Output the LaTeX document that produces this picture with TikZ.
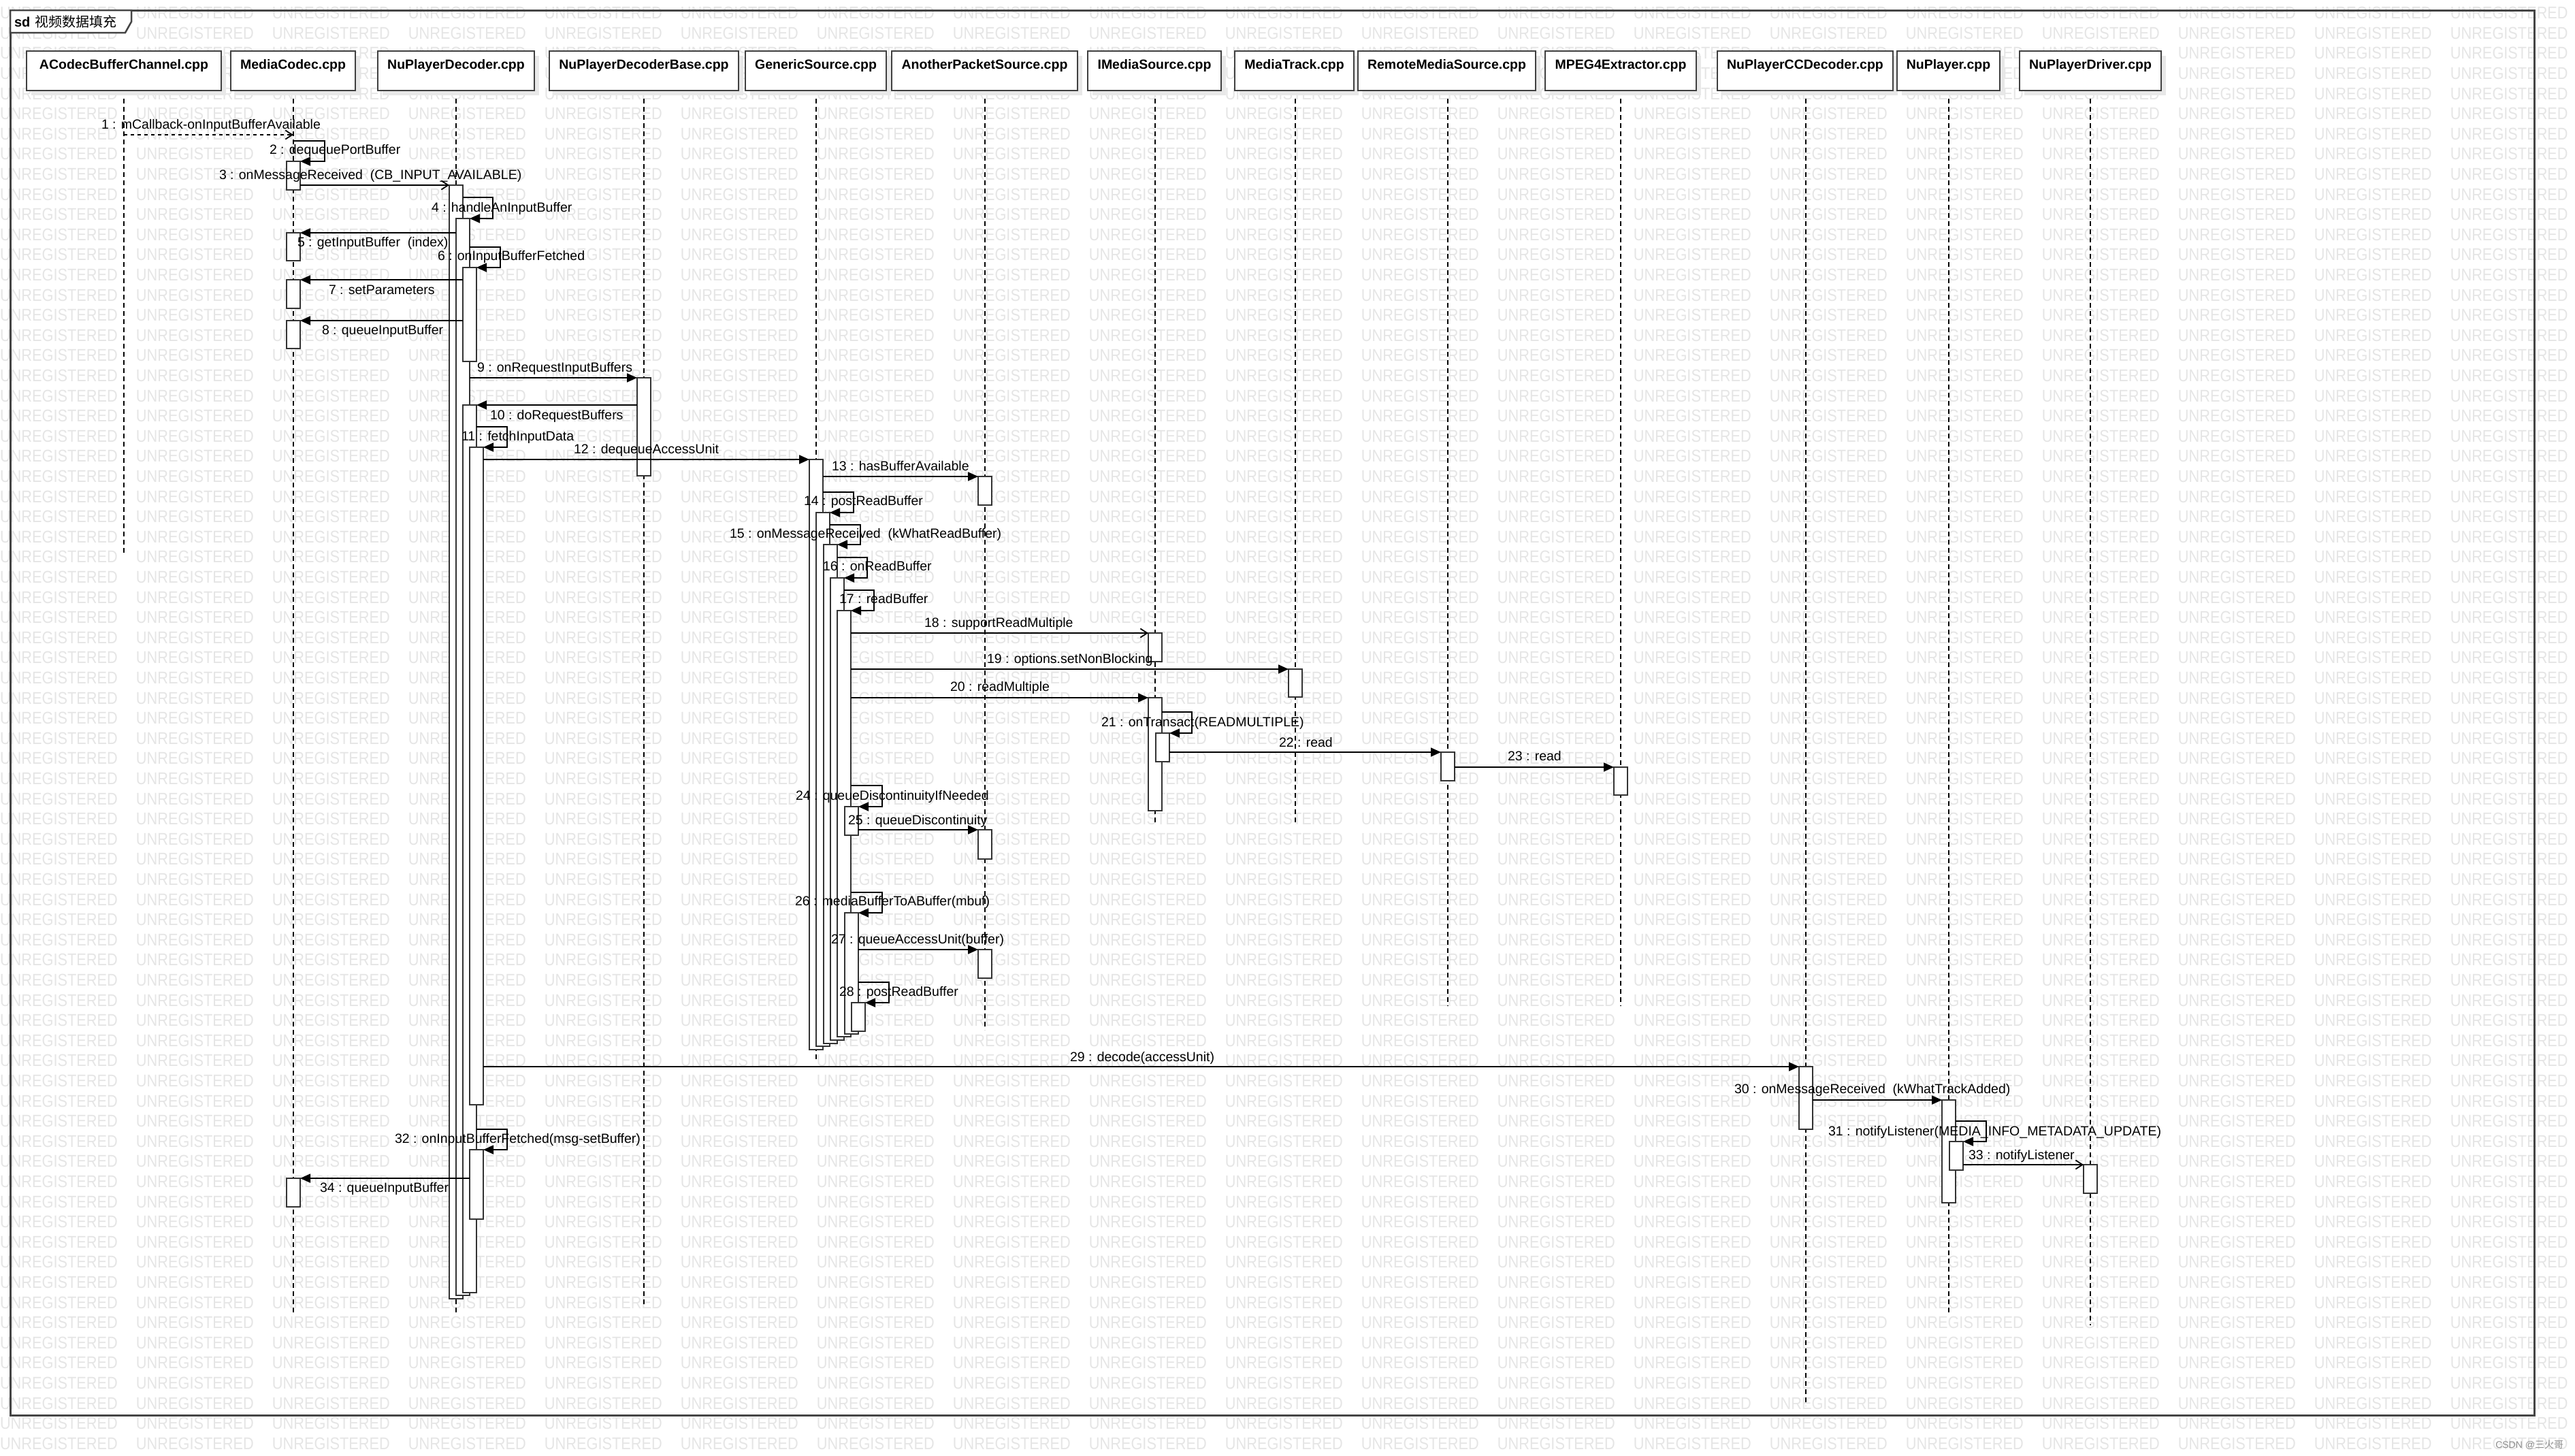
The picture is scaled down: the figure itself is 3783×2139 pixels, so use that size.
\documentclass[tikz,border=0pt]{standalone}
\usepackage{fontspec}
\setmainfont{Liberation Sans}
\newfontfamily\cjk{Noto Sans CJK SC}
\newfontfamily\wmfont[FakeStretch=0.87]{Liberation Sans}
\usetikzlibrary{arrows.meta}
\newcommand\wmword{\makebox[200pt][l]{UNREGISTERED}}
\newcommand\wmrow{\wmword\wmword\wmword\wmword\wmword\wmword\wmword\wmword\wmword\wmword\wmword\wmword\wmword\wmword\wmword\wmword\wmword\wmword\wmword}
\newcommand\headbox[4]{%
  \fill[headshadow] (#2+7,82) rectangle (#3+7,140);
  \draw[headboxst] (#2,75) rectangle (#3,133);
  \node[headtitle] (#1) at ({(#2+#3)/2},94) {#4};
}
\newcommand\lifeline[3]{%
  \coordinate (#1a) at (#2,133);
  \coordinate (#1b) at (#2,#3);
  \draw[lifeln] (#1a) -- (#1b);
}
\newcommand\act[3]{\draw[actbar] (#1,#2) rectangle (#1+20,#3);}
\newcommand\msg[8]{%
  \coordinate (#1s) at (#2,#4);
  \coordinate (#1e) at (#3,#4);
  \draw[#5] (#1s) -- (#1e);
  \node[lbl] (#1l) at (#6,#7) {#8};
}
\newcommand\selfmsg[9]{%
  \coordinate (#1s) at (#2,#4);
  \coordinate (#1e) at (#6,#5);
  \draw[sync] (#1s) -- (#3,#4) -- (#3,#5) -- (#1e);
  \node[lbl] (#1l) at (#7,#8) {#9};
}
\begin{document}
\begin{tikzpicture}[x=1pt,y=-1pt,
  every node/.style={inner sep=0pt, outer sep=0pt},
  headboxst/.style={draw=black!75, line width=2.5pt, fill=white},
  headshadow/.style={fill=black!9},
  lifeln/.style={draw=black, line width=1.5pt, dash pattern=on 7pt off 5pt},
  actbar/.style={draw=black!80, line width=2pt, fill=white},
  msgline/.style={draw=black, line width=1.8pt},
  sync/.style={msgline, -{Triangle[length=15pt,width=13pt]}},
  asyncm/.style={msgline, -{Straight Barb[length=10pt,width=13pt]}},
  dashm/.style={msgline, dash pattern=on 5pt off 5pt, -{Straight Barb[length=10pt,width=13pt]}},
  lbl/.style={anchor=west, text height=14pt, text depth=0pt, font=\fontsize{19.5}{22}\selectfont},
  headtitle/.style={text height=14pt, text depth=0pt, font=\bfseries\fontsize{19.5}{22}\selectfont},
  wm/.style={anchor=west, text=black!10, font=\wmfont\fontsize{25}{27}\selectfont},
]
\useasboundingbox (0,0) rectangle (3783,2139);
% watermark
\begin{scope}
\clip (0,0) rectangle (3783,2139);
\foreach \r in {0,...,72} {
  \node[wm] (wmr\r) at (0,19+29.6*\r) {\wmrow};
}
\end{scope}
\node[anchor=east, text=black!45, font=\fontsize{14}{16}\selectfont] (csdn) at (3766,2123) {CSDN @{\cjk 三火哥}};
% frame
\draw[draw=black!73, line width=3pt] (15,15) rectangle (3723,2079);
\draw[draw=black!73, line width=2.5pt, fill=white] (15,15) -- (193,15) -- (193,32) -- (184,48) -- (15,48) -- cycle;
\node[anchor=west, text height=14pt, text depth=0pt, font=\bfseries\fontsize{20}{22}\selectfont] (sdk) at (21,32) {sd};
\node[anchor=west, text height=14pt, text depth=0pt, font=\cjk\fontsize{20}{22}\selectfont] (sdname) at (51,32) {视频数据填充};
% lifelines
\lifeline{L1}{182}{814}
\lifeline{L2}{431}{1928}
\lifeline{L3}{670}{1928}
\lifeline{L4}{946}{1919}
\lifeline{L5}{1199}{1560}
\lifeline{L6}{1447}{1513}
\lifeline{L7}{1697}{1210}
\lifeline{L8}{1903}{1210}
\lifeline{L9}{2127}{1478}
\lifeline{L10}{2381}{1478}
\lifeline{L11}{2653}{2065}
\lifeline{L12}{2863}{1930}
\lifeline{L13}{3071}{1947}
% heads
\headbox{h1}{39}{325}{ACodecBufferChannel.cpp}
\headbox{h2}{339}{522}{MediaCodec.cpp}
\headbox{h3}{555}{785}{NuPlayerDecoder.cpp}
\headbox{h4}{807}{1085}{NuPlayerDecoderBase.cpp}
\headbox{h5}{1095}{1302}{GenericSource.cpp}
\headbox{h6}{1310}{1583}{AnotherPacketSource.cpp}
\headbox{h7}{1598}{1794}{IMediaSource.cpp}
\headbox{h8}{1814}{1989}{MediaTrack.cpp}
\headbox{h9}{1995}{2256}{RemoteMediaSource.cpp}
\headbox{h10}{2270}{2492}{MPEG4Extractor.cpp}
\headbox{h11}{2523}{2781}{NuPlayerCCDecoder.cpp}
\headbox{h12}{2787}{2938}{NuPlayer.cpp}
\headbox{h13}{2967}{3175}{NuPlayerDriver.cpp}
% activation bars
\act{421}{237}{279}
\act{421}{342}{383}
\act{421}{411}{453}
\act{421}{471}{512}
\act{421}{1731}{1773}
\act{660}{272}{1908}
\act{670}{321}{1903}
\act{680}{393}{531}
\act{680}{595}{1899}
\act{690}{657}{1623}
\act{690}{1689}{1791}
\act{936}{555}{699}
\act{1189}{675}{1542}
\act{1199}{753}{1537}
\act{1210}{800}{1533}
\act{1220}{849}{1528}
\act{1230}{897}{1523}
\act{1241}{1185}{1227}
\act{1241}{1341}{1519}
\act{1251}{1473}{1515}
\act{1437}{700}{742}
\act{1437}{1219}{1262}
\act{1437}{1395}{1437}
\act{1687}{930}{972}
\act{1687}{1025}{1191}
\act{1698}{1077}{1119}
\act{1893}{983}{1024}
\act{2117}{1105}{1147}
\act{2371}{1127}{1168}
\act{2643}{1567}{1659}
\act{2853}{1616}{1767}
\act{2864}{1677}{1719}
\act{3061}{1711}{1753}
% messages
\msg{m1}{182}{431}{198}{dashm}{149}{182}{1 : mCallback-onInputBufferAvailable}
\selfmsg{m2}{431}{477}{207}{237}{441}{396}{219}{2 : dequeuePortBuffer}
\msg{m3}{441}{660}{272}{asyncm}{322}{256}{3 : onMessageReceived\ \ (CB\_INPUT\_AVAILABLE)}
\selfmsg{m4}{680}{724}{290}{321}{690}{634}{304}{4 : handleAnInputBuffer}
\msg{m5}{670}{441}{342}{sync}{437}{355}{5 : getInputBuffer\ \ (index)}
\selfmsg{m6}{690}{735}{363}{393}{700}{643}{375}{6 : onInputBufferFetched}
\msg{m7}{680}{441}{411}{sync}{483}{425}{7 : setParameters}
\msg{m8}{680}{441}{471}{sync}{473}{484}{8 : queueInputBuffer}
\msg{m9}{690}{936}{555}{sync}{701}{539}{9 : onRequestInputBuffers}
\msg{m10}{936}{700}{595}{sync}{720}{609}{10 : doRequestBuffers}
\selfmsg{m11}{700}{745}{627}{657}{710}{678}{640}{11 : fetchInputData}
\msg{m12}{710}{1189}{675}{sync}{843}{659}{12 : dequeueAccessUnit}
\msg{m13}{1209}{1437}{700}{sync}{1222}{684}{13 : hasBufferAvailable}
\selfmsg{m14}{1209}{1254}{723}{753}{1219}{1181}{735}{14 : postReadBuffer}
\selfmsg{m15}{1219}{1264}{771}{800}{1230}{1072}{783}{15 : onMessageReceived\ \ (kWhatReadBuffer)}
\selfmsg{m16}{1230}{1274}{819}{849}{1240}{1209}{831}{16 : onReadBuffer}
\selfmsg{m17}{1240}{1284}{867}{897}{1250}{1233}{879}{17 : readBuffer}
\msg{m18}{1250}{1687}{930}{asyncm}{1358}{914}{18 : supportReadMultiple}
\msg{m19}{1250}{1893}{983}{sync}{1450}{967}{19 : options.setNonBlocking}
\msg{m20}{1250}{1687}{1025}{sync}{1396}{1008}{20 : readMultiple}
\selfmsg{m21}{1707}{1751}{1046}{1077}{1718}{1618}{1060}{21 : onTransact(READMULTIPLE)}
\msg{m22}{1718}{2117}{1105}{sync}{1879}{1090}{22 : read}
\msg{m23}{2137}{2371}{1127}{sync}{2215}{1110}{23 : read}
\selfmsg{m24}{1250}{1296}{1154}{1185}{1261}{1169}{1168}{24 : queueDiscontinuityIfNeeded}
\msg{m25}{1261}{1437}{1219}{sync}{1246}{1204}{25 : queueDiscontinuity}
\selfmsg{m26}{1250}{1296}{1311}{1341}{1261}{1168}{1323}{26 : mediaBufferToABuffer(mbuf)}
\msg{m27}{1261}{1437}{1395}{sync}{1221}{1379}{27 : queueAccessUnit(buffer)}
\selfmsg{m28}{1261}{1306}{1443}{1473}{1271}{1233}{1456}{28 : postReadBuffer}
\msg{m29}{710}{2643}{1567}{sync}{1572}{1552}{29 : decode(accessUnit)}
\msg{m30}{2663}{2853}{1616}{sync}{2548}{1599}{30 : onMessageReceived\ \ (kWhatTrackAdded)}
\selfmsg{m31}{2873}{2918}{1647}{1677}{2884}{2686}{1661}{31 : notifyListener(MEDIA\_INFO\_METADATA\_UPDATE)}
\selfmsg{m32}{700}{745}{1659}{1689}{710}{580}{1672}{32 : onInputBufferFetched(msg-setBuffer)}
\msg{m33}{2884}{3061}{1711}{asyncm}{2892}{1696}{33 : notifyListener}
\msg{m34}{690}{441}{1731}{sync}{470}{1744}{34 : queueInputBuffer}
\end{tikzpicture}
\end{document}
